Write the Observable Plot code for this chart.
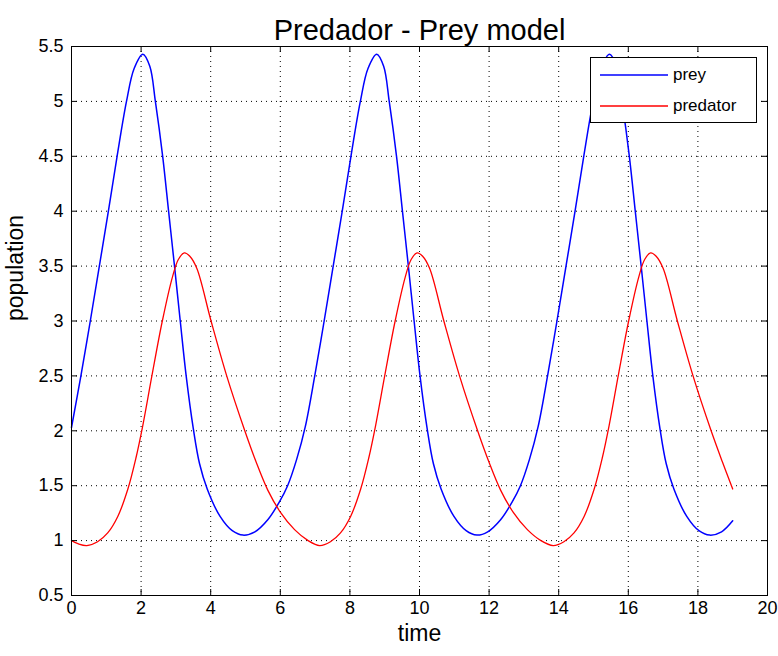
<!DOCTYPE html>
<html>
<head>
<meta charset="utf-8">
<script src="https://cdn.jsdelivr.net/npm/d3@7"></script>
<script src="https://cdn.jsdelivr.net/npm/@observablehq/plot@0.6"></script>
<style>
  html, body { margin: 0; padding: 0; background: #fff; }
  #wrap { position: relative; width: 778px; height: 656px; font-family: "Liberation Sans", Arial, Helvetica, sans-serif; }
  #legend { position: absolute; left: 590px; top: 57px; width: 167px; height: 66px; box-sizing: border-box;
            border: 1px solid #000; background: #fff; font-size: 17px; color: #000; }
  .row { position: absolute; left: 9px; height: 20px; display: flex; align-items: center; }
  .row svg { margin-right: 5px; }
</style>
</head>
<body>
<div id="wrap"></div>
<script>
// ---- data ----
const preyT = [0, 0.27, 0.54, 0.8, 1.06, 1.31, 1.58, 1.8, 2.05, 2.25, 2.41, 2.62, 2.79, 2.96, 3.125, 3.295, 3.5, 3.68, 3.9, 4.27, 4.62, 4.93,
  5.27, 5.64, 5.97, 6.21, 6.47, 6.72, 6.99, 7.26, 7.52, 7.78, 8.03, 8.3, 8.52, 8.77, 8.97, 9.13, 9.34, 9.51, 9.68, 9.845, 10.015, 10.22, 10.4, 10.62, 10.99, 11.34, 11.65,
  11.96, 12.33, 12.66, 12.9, 13.16, 13.41, 13.68, 13.95, 14.21, 14.47, 14.72, 14.99, 15.21, 15.46, 15.66, 15.82, 16.03, 16.2, 16.37, 16.535, 16.705, 16.91, 17.09, 17.31, 17.68, 18.03, 18.34, 18.68, 19.0];
const preyV = [2.03, 2.5, 3.0, 3.5, 4.0, 4.5, 5.0, 5.3, 5.43, 5.32, 5.0, 4.5, 4.0, 3.5, 3.0, 2.5, 2.02, 1.7, 1.47, 1.22, 1.09, 1.05,
  1.08, 1.19, 1.35, 1.5, 1.74, 2.04, 2.5, 3.0, 3.5, 4.0, 4.5, 5.0, 5.3, 5.43, 5.32, 5.0, 4.5, 4.0, 3.5, 3.0, 2.5, 2.02, 1.7, 1.47, 1.22, 1.09, 1.05,
  1.08, 1.19, 1.35, 1.5, 1.74, 2.04, 2.5, 3.0, 3.5, 4.0, 4.5, 5.0, 5.3, 5.43, 5.32, 5.0, 4.5, 4.0, 3.5, 3.0, 2.5, 2.02, 1.7, 1.47, 1.22, 1.09, 1.05, 1.08, 1.18];
const predT = [0, 0.2, 0.44, 0.75, 1.04, 1.33, 1.62, 1.85, 2.05, 2.31, 2.61, 2.9, 3.07, 3.24, 3.4, 3.6, 4.01, 4.46, 4.98, 5.3, 5.64, 6.0, 6.41, 6.8, 7.13,
  7.44, 7.73, 8.02, 8.31, 8.54, 8.74, 9.0, 9.3, 9.59, 9.76, 9.93, 10.09, 10.29, 10.7, 11.15, 11.67, 11.99, 12.33, 12.69, 13.1, 13.49, 13.84,
  14.15, 14.44, 14.73, 15.02, 15.25, 15.45, 15.71, 16.01, 16.3, 16.47, 16.64, 16.8, 17.0, 17.41, 17.86, 18.38, 18.7, 19.0];
const predV = [1.0, 0.97, 0.955, 0.99, 1.07, 1.22, 1.47, 1.75, 2.05, 2.5, 3.0, 3.4, 3.56, 3.62, 3.59, 3.48, 3.0, 2.5, 2.0, 1.72, 1.46, 1.26, 1.1, 1.0, 0.955,
  0.99, 1.07, 1.22, 1.47, 1.75, 2.05, 2.5, 3.0, 3.4, 3.56, 3.62, 3.59, 3.48, 3.0, 2.5, 2.0, 1.72, 1.46, 1.26, 1.1, 1.0, 0.955,
  0.99, 1.07, 1.22, 1.47, 1.75, 2.05, 2.5, 3.0, 3.4, 3.56, 3.62, 3.59, 3.48, 3.0, 2.5, 2.0, 1.72, 1.47];
const xTicks = [0, 2, 4, 6, 8, 10, 12, 14, 16, 18, 20];
const yTicks = [0.5, 1, 1.5, 2, 2.5, 3, 3.5, 4, 4.5, 5, 5.5];
const seriesNames = ["prey", "predator"];
const seriesColors = ["#0000ff", "#ff0000"];
const titleText = "Predador - Prey model";
const xLabel = "time";
const yLabel = "population";

const prey = preyT.map((t, i) => ({t, v: preyV[i]}));
const pred = predT.map((t, i) => ({t, v: predV[i]}));

const W = 778, H = 656;
const mL = 71, mR = 11, mT = 46, mB = 61;
const fw = W - mL - mR, fh = H - mT - mB;
const tl = 6;

const chart = Plot.plot({
  width: W, height: H,
  marginLeft: mL, marginRight: mR, marginTop: mT, marginBottom: mB,
  style: {fontFamily: '"Liberation Sans", Arial, Helvetica, sans-serif', background: "#fff", overflow: "visible"},
  x: {domain: [0, 20], ticks: xTicks},
  y: {domain: [0.5, 5.5], ticks: yTicks},
  marks: [
    Plot.gridX(xTicks, {stroke: "#000", strokeOpacity: 1, strokeDasharray: "1,4"}),
    Plot.gridY(yTicks, {stroke: "#000", strokeOpacity: 1, strokeDasharray: "1,4"}),
    Plot.line(prey, {x: "t", y: "v", stroke: seriesColors[0], strokeWidth: 1.5, curve: "catmull-rom"}),
    Plot.line(pred, {x: "t", y: "v", stroke: seriesColors[1], strokeWidth: 1.3, curve: "catmull-rom"}),
    Plot.tickX(xTicks, {x: d => d, stroke: "#000", insetBottom: fh - tl}),
    Plot.tickX(xTicks, {x: d => d, stroke: "#000", insetTop: fh - tl}),
    Plot.tickY(yTicks, {y: d => d, stroke: "#000", insetRight: fw - tl}),
    Plot.tickY(yTicks, {y: d => d, stroke: "#000", insetLeft: fw - tl}),
    Plot.frame({stroke: "#000"}),
    Plot.axisX(xTicks, {tickSize: 0, tickPadding: 6, fontSize: 18, label: null, tickFormat: d => String(d)}),
    Plot.axisY(yTicks, {tickSize: 0, tickPadding: 8, fontSize: 18, label: null, tickFormat: d => String(d)}),
    Plot.text([xLabel], {frameAnchor: "bottom", dy: 45, fontSize: 23, fill: "#000"}),
    Plot.text([yLabel], {frameAnchor: "left", dx: -56, rotate: -90, fontSize: 23, fill: "#000"}),
    Plot.text([titleText], {frameAnchor: "top", dy: -27, fontSize: 29, fill: "#000"})
  ]
});

const wrap = document.getElementById("wrap");
wrap.appendChild(chart);

const legend = document.createElement("div");
legend.id = "legend";
seriesNames.forEach((name, i) => {
  const row = document.createElement("div");
  row.className = "row";
  row.style.top = (i === 0 ? 7 : 38) + "px";
  row.innerHTML = `<svg width="68" height="4"><line x1="0" y1="2" x2="68" y2="2" stroke="${seriesColors[i]}" stroke-width="1.5"/></svg><span>${name}</span>`;
  legend.appendChild(row);
});
wrap.appendChild(legend);
</script>
</body>
</html>
